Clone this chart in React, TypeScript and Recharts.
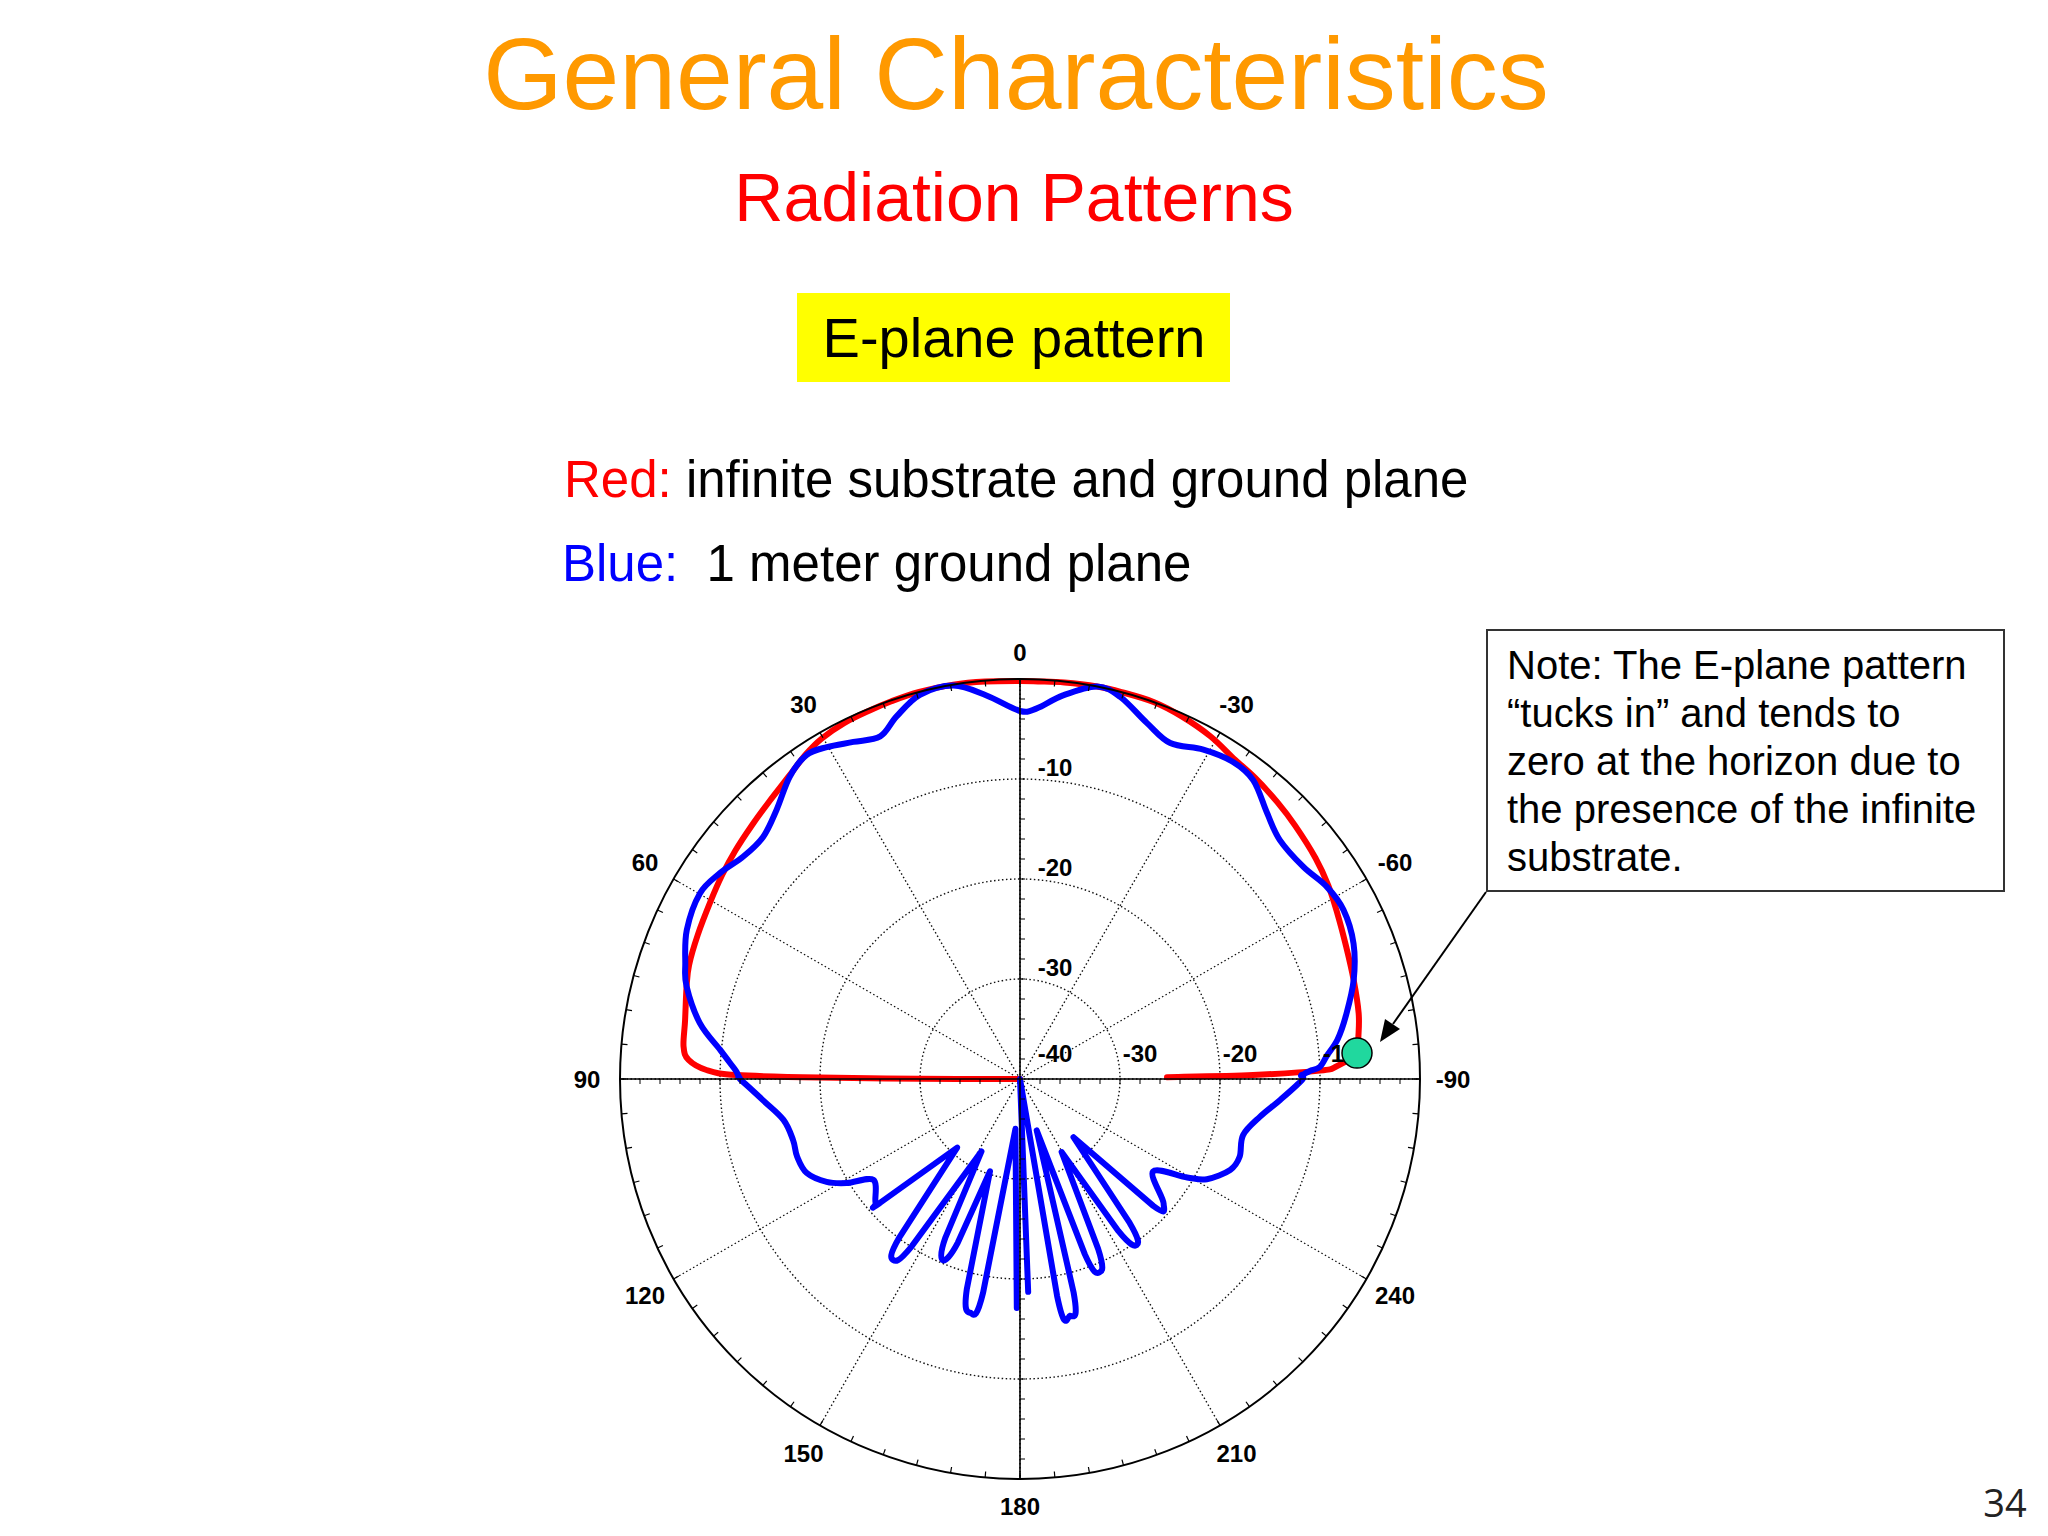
import React from "react";
import {
  RadarChart,
  Radar,
  PolarGrid,
  PolarAngleAxis,
  PolarRadiusAxis,
} from "recharts";

const FONT = '"Liberation Sans", Arial, Helvetica, sans-serif';

// angle in degrees, 0 = broadside, counter-clockwise (left side = +90)
// values in dB, plotted on a -40..0 dB radial scale

// front half, left side (0 -> 90)
const frontLeftAngles = [
  0, 5, 9.6, 14.6, 18.8, 22.2, 26.3, 30.2, 33.4, 37.3, 42.1, 46.7, 51.2, 55.6,
  59.9, 65.9, 71, 74.5, 80.1, 84.5, 86.7, 88.4, 89.2, 89.6, 89.9, 90,
];
const redFrontLeft = [
  -0.2, -0.1, 0, 0, -0.1, -0.2, -0.3, -0.6, -1.1, -1.9, -2.6, -3.1, -3.5, -3.9,
  -4.3, -4.7, -5.0, -5.4, -6.0, -6.2, -6.8, -8.7, -11.7, -20, -30, -40,
];
const blueFrontLeft = [
  -3.2, -1.5, -0.1, -0.3, -1.7, -3.0, -2.4, -1.6, -1.2, -2.0, -3.7, -4.7, -4.5,
  -3.6, -3.0, -3.5, -4.6, -5.4, -7.5, -9.9, -10.9, -11.6, -11.8, -11.9, -12, -12,
];

// back half: only the finite (1 m) ground plane radiates here
const backAngles = [
  94.7, 99.8, 105.1, 109.2, 113.8, 118, 121, 124.5, 130.5, 131.5, 137.5, 142.7,
  144.9, 147.1, 152, 154.8, 157, 159.2, 162, 165.8, 168, 170.2, 174.8, 179.2,
  180, 182.2, 186.5, 189.7, 191.9, 194.1, 198, 200.3, 202.5, 204.7, 209.7,
  212.9, 215.1, 217.3, 222.6, 226.4, 229.1, 235.2, 239.5, 241.8, 246.6, 250.5,
  255.9, 261.1, 265.4, 269.8,
];
const blueBack: (number | null)[] = [
  -14.2, -16, -16.5, -16.4, -16.7, -18.1, -19.8, -22.2, -21.0, -21.3, -30.7,
  -20.1, -17.9, -20.1, -31.8, -22.5, -20.3, -22.5, -30.3, -18.3, -16.1, -18.3,
  -35, -17.1, null, -18.7, -40, -18.0, -15.8, -18.0, -34.6, -21.3, -19.1, -21.3,
  -31.6, -21.9, -19.7, -21.9, -32.1, -21.6, -21.0, -23.8, -20.6, -18.8, -17.1,
  -16.7, -17.0, -15.7, -13.9, -11.8,
];

// front half, right side (270 -> 360)
const frontRightAngles = [
  270.7, 271, 271.6, 272.3, 274.4, 277.1, 281, 286.5, 292.1, 297.6, 302.1,
  306.8, 312.6, 317.1, 322, 326.1, 330.9, 335.9, 340.4, 345.3, 348.9, 353.6,
  357.4,
];
const redFrontRight = [
  -25.3, -16.7, -10, -8.3, -6.2, -5.9, -5.5, -5.2, -4.8, -4.2, -3.6, -3.1,
  -2.6, -2.2, -1.8, -1.5, -0.8, -0.3, 0, 0, 0, -0.1, -0.2,
];
const blueFrontRight = [
  -11.9, -11.6, -11.0, -10, -9.2, -8.0, -6.8, -5.2, -4.0, -3.5, -3.8, -4.6,
  -4.7, -3.7, -2.1, -1.8, -2.3, -3.2, -2.2, -0.5, 0, -1.4, -2.9,
];

// highlighted point where the infinite-substrate pattern tucks in
const markerAngle = 274.4;
const markerDb = -6.2;

const angleTicks = Array.from({ length: 72 }, (_, i) => i * 5);
const spokeAngles = [0, 30, 60, 90, 120, 150, 180, 210, 240, 270, 300, 330];
const ringTicks = [-30, -20, -10];
const minorTicks = Array.from({ length: 21 }, (_, i) => -40 + i * 2);
const rightLabels = [-40, -30, -20, -10];

const rows = [
  ...frontLeftAngles.map((angle, i) => ({
    angle,
    red: redFrontLeft[i] as number | null,
    blue: blueFrontLeft[i] as number | null,
    marker: null as number | null,
  })),
  ...backAngles.map((angle, i) => ({
    angle,
    red: null as number | null,
    blue: blueBack[i],
    marker: null as number | null,
  })),
  ...frontRightAngles.map((angle, i) => ({
    angle,
    red: redFrontRight[i] as number | null,
    blue: blueFrontRight[i] as number | null,
    marker: angle === markerAngle ? markerDb : null,
  })),
];

const labelStyle = {
  fontFamily: FONT,
  fontWeight: 700,
  fontSize: 24,
  fill: "#000",
};

function AngleTick(props: any) {
  const { x, y, payload } = props;
  const rad = (-payload.coordinate * Math.PI) / 180;
  const ux = Math.cos(rad);
  const uy = Math.sin(rad);
  // x, y sit tickSize (8) outside the circle
  const bx = x - ux * 8;
  const by = y - uy * 8;
  const v = payload.value;
  const gap = v % 180 === 0 ? 27 : 33;
  return (
    <g>
      <line
        x1={bx}
        y1={by}
        x2={bx - ux * 6}
        y2={by - uy * 6}
        stroke="#000"
        strokeWidth={1.2}
      />
      {v % 30 === 0 && (
        <text
          x={bx + ux * gap}
          y={by + uy * gap}
          textAnchor="middle"
          dominantBaseline="central"
          {...labelStyle}
        >
          {v >= 270 ? v - 360 : v}
        </text>
      )}
    </g>
  );
}

const minorTick = (horizontal: boolean, labels: number[]) => (props: any) => {
  const { x, y, payload } = props;
  const v = payload.value;
  return (
    <g>
      {v > -40 && v < 0 && (
        <line
          x1={x}
          y1={y}
          x2={horizontal ? x : x + 5}
          y2={horizontal ? y + 5 : y}
          stroke="#000"
          strokeWidth={1}
        />
      )}
      {labels.includes(v) && (
        <text
          x={x + (v === -40 ? 35 : 20)}
          y={y - 26}
          textAnchor="middle"
          dominantBaseline="central"
          {...labelStyle}
        >
          {v}
        </text>
      )}
    </g>
  );
};

function RingLabel(props: any) {
  const { x, y, payload } = props;
  return (
    <text
      x={x + 35}
      y={y - 12}
      textAnchor="middle"
      dominantBaseline="central"
      {...labelStyle}
    >
      {payload.value}
    </text>
  );
}

// nulls between the back lobes are sharp, everything else is smoothed
const isSharp = (p: any, key: string) =>
  p.payload.angle > 133 && p.payload.angle < 227 && p.payload[key] <= -29;

// path through the radar points; a null value lifts the pen, the trace wraps
// around through 0 deg and is closed only when it has no gap
function tracePath(points: any[], key: string) {
  const runs: any[][] = [];
  let cur: any[] = [];
  points.forEach((p) => {
    const v = p.payload ? p.payload[key] : null;
    if (v == null || !Number.isFinite(p.x)) {
      if (cur.length) runs.push(cur);
      cur = [];
    } else cur.push(p);
  });
  if (cur.length) runs.push(cur);
  if (!runs.length) return "";
  let closed = false;
  if (runs.length === 1 && runs[0].length === points.length) closed = true;
  else if (runs.length > 1 && runs[0][0] === points[0] && cur.length) {
    const first = runs.shift() as any[];
    runs[runs.length - 1] = [...runs[runs.length - 1], ...first];
  }
  return runs
    .map((run) => {
      const pts = closed ? [...run, run[0]] : run;
      let d = `M${pts[0].x},${pts[0].y}`;
      for (let i = 0; i < pts.length - 1; i++) {
        const p1 = pts[i];
        const p2 = pts[i + 1];
        if (isSharp(p1, key) || isSharp(p2, key)) {
          d += `L${p2.x},${p2.y}`;
          continue;
        }
        const p0 = pts[i - 1] || p1;
        const p3 = pts[i + 2] || p2;
        const c1x = p1.x + (p2.x - p0.x) / 6;
        const c1y = p1.y + (p2.y - p0.y) / 6;
        const c2x = p2.x - (p3.x - p1.x) / 6;
        const c2y = p2.y - (p3.y - p1.y) / 6;
        d += `C${c1x},${c1y} ${c2x},${c2y} ${p2.x},${p2.y}`;
      }
      return d;
    })
    .join("");
}

const traceShape = (key: string, color: string) => (props: any) =>
  (
    <path
      d={tracePath(props.points || [], key)}
      fill="none"
      stroke={color}
      strokeWidth={6}
      strokeLinejoin="round"
      strokeLinecap="round"
    />
  );

function MarkerShape(props: any) {
  const p = (props.points || []).find(
    (pt: any) => pt.payload && pt.payload.marker != null && Number.isFinite(pt.x)
  );
  if (!p) return <g />;
  return (
    <circle cx={p.x} cy={p.y} r={15} fill="#20d89e" stroke="#000" strokeWidth={1.5} />
  );
}

const textAt = (x: number, y: number): React.CSSProperties => ({
  position: "absolute",
  left: x,
  top: y,
  transform: "translate(-50%, -50%)",
  lineHeight: 1,
  whiteSpace: "pre",
  fontFamily: FONT,
});

const CHART = {
  width: 920,
  height: 916,
  cx: 460,
  cy: 459,
  innerRadius: 0,
  outerRadius: 400,
  startAngle: 90,
  endAngle: 450,
  margin: { top: 0, right: 0, bottom: 0, left: 0 },
};

export default function App() {
  const axisLine = { stroke: "#000", strokeWidth: 1.6 };
  return (
    <div
      style={{
        position: "absolute",
        left: 0,
        top: 0,
        width: 2048,
        height: 1536,
        background: "#fff",
        overflow: "hidden",
      }}
    >
      <div style={{ ...textAt(1016, 74), fontSize: 102, color: "#ff9900" }}>
        General Characteristics
      </div>
      <div style={{ ...textAt(1014, 197), fontSize: 68, color: "#ff0000" }}>
        Radiation Patterns
      </div>
      <div
        style={{
          position: "absolute",
          left: 797,
          top: 293,
          width: 433,
          height: 89,
          background: "#ffff00",
        }}
      />
      <div style={{ ...textAt(1014, 338), fontSize: 56, color: "#000" }}>
        E-plane pattern
      </div>
      <div
        style={{
          ...textAt(564, 479),
          transform: "translate(0, -50%)",
          fontSize: 51,
          color: "#000",
        }}
      >
        <span style={{ color: "#ff0000" }}>Red:</span> infinite substrate and
        ground plane
      </div>
      <div
        style={{
          ...textAt(562, 563),
          transform: "translate(0, -50%)",
          fontSize: 51,
          color: "#000",
        }}
      >
        <span style={{ color: "#0000ff" }}>Blue:</span>
        {"  1 meter ground plane"}
      </div>

      <div
        style={{
          position: "absolute",
          left: 1486,
          top: 629,
          width: 519,
          height: 263,
          boxSizing: "border-box",
          border: "2px solid #333",
          padding: "10px 0 0 19px",
          fontFamily: FONT,
          fontSize: 40,
          lineHeight: "48px",
          color: "#000",
          background: "#fff",
        }}
      >
        Note: The E-plane pattern
        <br />
        “tucks in” and tends to
        <br />
        zero at the horizon due to
        <br />
        the presence of the infinite
        <br />
        substrate.
      </div>

      <div style={{ position: "absolute", left: 560, top: 620 }}>
        <RadarChart {...CHART} data={rows}>
          <PolarGrid
            gridType="circle"
            polarAngles={spokeAngles}
            stroke="#111"
            strokeWidth={1.4}
            strokeDasharray="1.5 2.5"
          />
          <PolarAngleAxis
            dataKey="angle"
            type="number"
            domain={[0, 360]}
            ticks={angleTicks}
            tickSize={8}
            tickLine={false}
            axisLineType="circle"
            axisLine={{ stroke: "#000", strokeWidth: 2 }}
            tick={AngleTick}
          />
          <PolarRadiusAxis
            angle={90}
            type="number"
            domain={[-40, 0]}
            allowDataOverflow
            ticks={ringTicks}
            axisLine={false}
            tick={RingLabel}
          />
          <PolarRadiusAxis
            radiusAxisId="right"
            angle={0}
            type="number"
            domain={[-40, 0]}
            allowDataOverflow
            ticks={minorTicks}
            axisLine={axisLine}
            tick={minorTick(true, rightLabels)}
          />
          <PolarRadiusAxis
            radiusAxisId="top"
            angle={90}
            type="number"
            domain={[-40, 0]}
            allowDataOverflow
            ticks={minorTicks}
            axisLine={axisLine}
            tick={minorTick(false, [])}
          />
          <PolarRadiusAxis
            radiusAxisId="left"
            angle={180}
            type="number"
            domain={[-40, 0]}
            allowDataOverflow
            ticks={minorTicks}
            axisLine={axisLine}
            tick={minorTick(true, [])}
          />
          <PolarRadiusAxis
            radiusAxisId="bottom"
            angle={270}
            type="number"
            domain={[-40, 0]}
            allowDataOverflow
            ticks={minorTicks}
            axisLine={axisLine}
            tick={minorTick(false, [])}
          />
          <Radar
            dataKey="red"
            stroke="#ff0000"
            fill="none"
            shape={traceShape("red", "#ff0000")}
            isAnimationActive={false}
          />
          <Radar
            dataKey="blue"
            stroke="#0000ff"
            fill="none"
            shape={traceShape("blue", "#0000ff")}
            isAnimationActive={false}
          />
        </RadarChart>
      </div>

      {/* same polar frame on top, so the marker covers the axis labels */}
      <div style={{ position: "absolute", left: 560, top: 620 }}>
        <RadarChart {...CHART} data={rows}>
          <PolarAngleAxis
            dataKey="angle"
            type="number"
            domain={[0, 360]}
            tick={false}
            tickLine={false}
            axisLine={false}
          />
          <PolarRadiusAxis
            type="number"
            domain={[-40, 0]}
            allowDataOverflow
            tick={false}
            axisLine={false}
          />
          <Radar
            dataKey="marker"
            stroke="none"
            fill="none"
            shape={MarkerShape}
            isAnimationActive={false}
          />
        </RadarChart>
      </div>

      <svg
        width={2048}
        height={1536}
        style={{ position: "absolute", left: 0, top: 0, pointerEvents: "none" }}
      >
        <line x1={1486} y1={892} x2={1393} y2={1024} stroke="#000" strokeWidth={2} />
        <polygon points="1380,1042 1400,1029 1385,1019" fill="#000" />
      </svg>

      <div
        style={{
          ...textAt(2005, 1502),
          fontFamily: '"Open Sans", "Noto Sans", sans-serif',
          fontSize: 38,
          color: "#222",
        }}
      >
        34
      </div>
    </div>
  );
}
